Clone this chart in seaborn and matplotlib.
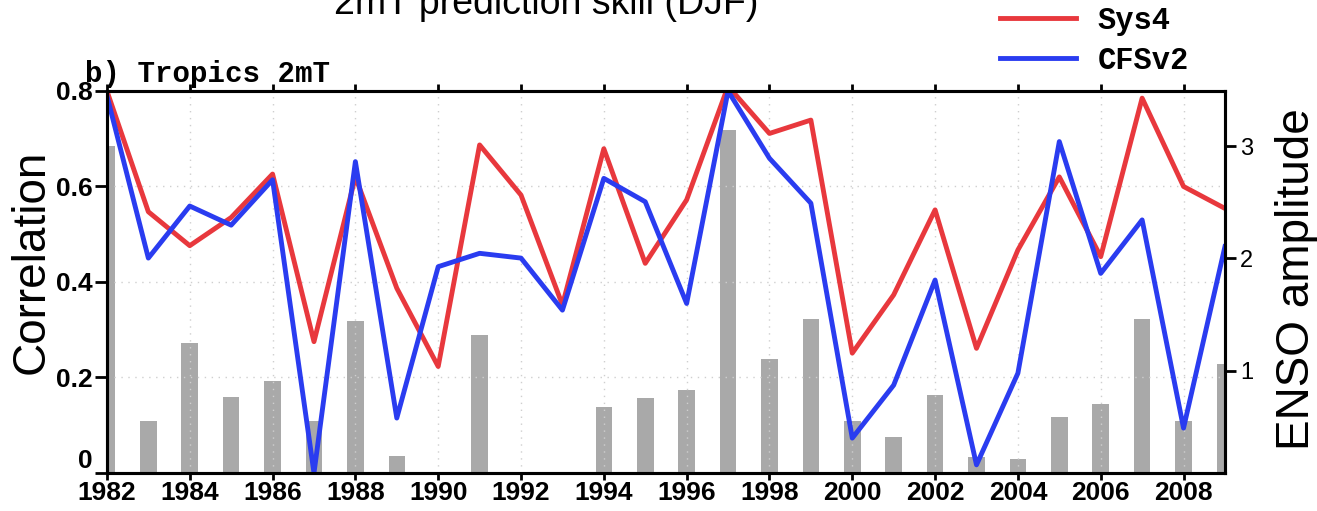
import matplotlib
matplotlib.use('Agg')
import matplotlib.pyplot as plt
import seaborn as sns
import pandas as pd

years = list(range(1982, 2010))
sys4 = [0.80, 0.547, 0.476, 0.535, 0.626, 0.275, 0.62, 0.387, 0.223, 0.687,
        0.582, 0.352, 0.679, 0.439, 0.572, 0.81, 0.711, 0.739, 0.251, 0.373,
        0.551, 0.261, 0.467, 0.62, 0.453, 0.785, 0.60, 0.554]
cfsv2 = [0.79, 0.45, 0.559, 0.519, 0.614, 0.0, 0.652, 0.115, 0.432, 0.46,
         0.45, 0.341, 0.617, 0.568, 0.355, 0.80, 0.659, 0.565, 0.073, 0.184,
         0.404, 0.017, 0.209, 0.694, 0.418, 0.53, 0.094, 0.474]
enso = [3.0, 0.555, 1.245, 0.77, 0.91, 0.55, 1.44, 0.24, 0.0, 1.32,
        0.0, 0.0, 0.68, 0.755, 0.83, 3.14, 1.10, 1.46, 0.55, 0.41,
        0.78, 0.23, 0.21, 0.59, 0.70, 1.46, 0.555, 1.06]
left_ticks = [0, 0.2, 0.4, 0.6, 0.8]
left_ticklabels = ["0", "0.2", "0.4", "0.6", "0.8"]
right_ticks = [1, 2, 3]
x_ticks = list(range(1982, 2009, 2))

RED = "#e8383d"
BLUE = "#2a3cf0"
GREY = "#a9a9a9"

sans = ['Liberation Sans', 'DejaVu Sans']
mono = ['Liberation Mono', 'DejaVu Sans Mono']

df = pd.DataFrame({"year": years, "Sys4": sys4, "CFSv2": cfsv2, "enso": enso})

fig = plt.figure(figsize=(13.17, 5.11), dpi=100)
ax = fig.add_axes([0.0812, 0.0744, 0.8489, 0.7476])
ax2 = ax.twinx()

# bars on the right axis
sns.barplot(data=df, x="year", y="enso", native_scale=True, width=0.4,
            color=GREY, saturation=1, ax=ax2, zorder=1)
ax2.set_ylim(0.09, 3.49)
ax2.set_xlim(1982, 2009)

# lines on the left axis (drawn above bars)
ax.set_zorder(ax2.get_zorder() + 1)
ax.patch.set_visible(False)
sns.lineplot(data=df, x="year", y="Sys4", color=RED, lw=3.5, ax=ax, label="Sys4", legend=False)
sns.lineplot(data=df, x="year", y="CFSv2", color=BLUE, lw=3.5, ax=ax, label="CFSv2", legend=False)
ax.set_xlim(1982, 2009)
ax.set_ylim(0, 0.8)

# grid
for xv in x_ticks[1:]:
    ax.axvline(xv, color="#cfcfcf", lw=1.0, ls=(0, (1, 4)), zorder=0)
for yv in [0.2, 0.4, 0.6]:
    ax.axhline(yv, color="#cfcfcf", lw=1.0, ls=(0, (1, 4)), zorder=0)

# ticks
ax.set_xticks(x_ticks)
ax.set_xticklabels([str(y) for y in x_ticks])
ax.set_yticks(left_ticks)
ax.set_yticklabels(left_ticklabels)
ax.tick_params(axis='x', direction='out', length=5, width=2, pad=1)
ax.tick_params(axis='y', direction='out', length=9, width=2, pad=1)
ax.tick_params(axis='x', top=True, which='major')
for lab in ax.get_xticklabels() + ax.get_yticklabels():
    lab.set_family(sans)
    lab.set_fontweight('bold')
    lab.set_fontsize(19)
ylabs = ax.get_yticklabels()
ylabs[0].set_verticalalignment('bottom')
ax.set_xlabel("")
ax.set_ylabel("")

ax2.set_yticks(right_ticks)
ax2.set_yticklabels([str(v) for v in right_ticks])
ax2.tick_params(axis='y', direction='out', length=8, width=2, pad=3, labelsize=17)
for lab in ax2.get_yticklabels():
    lab.set_family(sans)
ax2.set_ylabel("")
ax2.set_xlabel("")
ax2.tick_params(axis='x', bottom=False, labelbottom=False)

for a in (ax, ax2):
    for s in a.spines.values():
        s.set_linewidth(2.2)
        s.set_color("black")

# texts
fig.text(0.024, 0.487, "Correlation", rotation=90, ha='center', va='center',
         fontsize=33, family=sans)
fig.text(0.985, 0.454, "ENSO amplitude", rotation=90, ha='center', va='center',
         fontsize=33, family=sans)
fig.text(0.415, 0.973, "2mT prediction skill (DJF)", ha='center', va='baseline',
         fontsize=27, family=sans)
fig.text(0.0645, 0.84, "b) Tropics 2mT", ha='left', va='baseline',
         fontsize=21, family=mono, fontweight='bold')

handles, labels = ax.get_legend_handles_labels()
fig.legend(handles, labels, loc='upper left', bbox_to_anchor=(0.743, 1.03),
           bbox_transform=fig.transFigure, frameon=False,
           prop={'family': mono, 'weight': 'bold', 'size': 22},
           handlelength=2.5, handletextpad=0.7, labelspacing=0.31, borderpad=0.2)

fig.savefig("out.png", dpi=100)
